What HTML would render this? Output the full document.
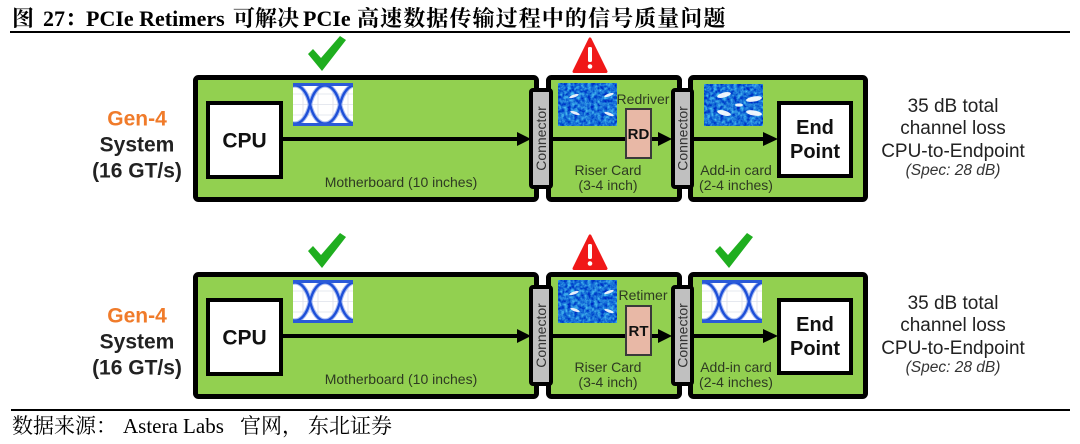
<!DOCTYPE html>
<html><head><meta charset="utf-8">
<style>
html,body{margin:0;padding:0;background:#fff;}
body{width:1080px;height:444px;overflow:hidden;}
svg{display:block;}
</style></head>
<body>
<svg width="1080" height="444" viewBox="0 0 1080 444" xmlns="http://www.w3.org/2000/svg">
<defs>
  <clipPath id="eyeclip"><rect x="0" y="0" width="60" height="43"/></clipPath>
  <clipPath id="badclip"><rect x="0" y="0" width="59" height="43"/></clipPath>
  <filter id="noise" x="0" y="0" width="1" height="1" filterUnits="objectBoundingBox" color-interpolation-filters="sRGB">
    <feTurbulence type="fractalNoise" baseFrequency="0.3" numOctaves="3" seed="4"/>
    <feColorMatrix type="matrix" values="0.6 0 0 0 -0.2  1.0 0 0 0 -0.05  0.3 0 0 0 0.7  0 0 0 0 1"/>
  </filter>
</defs>

<!-- Title -->
<g font-family="'Liberation Serif','Noto Serif CJK SC',serif" font-weight="bold" font-size="22" fill="#000">
  <text x="12" y="26">图</text>
  <text x="43" y="26">27：</text>
  <text x="86" y="26">PCIe Retimers</text>
  <text x="233" y="26">可解决</text>
  <text x="303" y="26">PCIe</text>
  <text x="357" y="26" letter-spacing="1.1">高速数据传输过程中的信号质量问题</text>
</g>
<rect x="10" y="31" width="1060" height="2" fill="#000"/>

<!-- Footer -->
<rect x="11" y="409" width="1059" height="2" fill="#000"/>
<g font-family="'Liberation Serif','Noto Serif CJK SC',serif" font-size="21" fill="#000">
  <text x="12" y="433">数据来源：</text>
  <text x="123" y="433">Astera Labs</text>
  <text x="240" y="433">官网，</text>
  <text x="308" y="433">东北证券</text>
</g>

<!-- ================= DIAGRAM 1 ================= -->
<g id="d1">
  <g font-family="'Liberation Sans',Arial,sans-serif" font-weight="bold" font-size="21" text-anchor="middle">
    <text x="137" y="125.5" fill="#f07b2a">Gen-4</text>
    <text x="137" y="151.5" fill="#222">System</text>
    <text x="137" y="177.5" fill="#222">(16 GT/s)</text>
  </g>
  <rect x="195.5" y="77.5" width="341" height="122" rx="3" fill="#92d050" stroke="#000" stroke-width="5"/>
  <rect x="548.5" y="77.5" width="131" height="122" rx="3" fill="#92d050" stroke="#000" stroke-width="5"/>
  <rect x="690.5" y="77.5" width="175" height="122" rx="3" fill="#92d050" stroke="#000" stroke-width="5"/>
  <rect x="208" y="103" width="73" height="74" fill="#fff" stroke="#000" stroke-width="4"/>
  <text x="244.5" y="147.5" font-family="'Liberation Sans',Arial,sans-serif" font-weight="bold" font-size="21" text-anchor="middle" fill="#111">CPU</text>
  <rect x="779" y="103" width="72" height="73" fill="#fff" stroke="#000" stroke-width="4"/>
  <g font-family="'Liberation Sans',Arial,sans-serif" font-weight="bold" font-size="20" text-anchor="middle" fill="#111">
    <text x="815" y="134">End</text>
    <text x="815" y="158">Point</text>
  </g>
  <line x1="283" y1="139" x2="519" y2="139" stroke="#000" stroke-width="4"/>
  <polygon points="517,132 531,139 517,146" fill="#000"/>
  <line x1="553" y1="139" x2="626" y2="139" stroke="#000" stroke-width="4"/>
  <line x1="651" y1="139" x2="660" y2="139" stroke="#000" stroke-width="4"/>
  <polygon points="658,132 672,139 658,146" fill="#000"/>
  <line x1="693" y1="139" x2="765" y2="139" stroke="#000" stroke-width="4"/>
  <polygon points="763,132 778,139 763,146" fill="#000"/>
  <rect x="626" y="109" width="25" height="49" fill="#e8b8a6" stroke="#3a3a3a" stroke-width="2"/>
  <text x="638.5" y="139" font-family="'Liberation Sans',Arial,sans-serif" font-weight="bold" font-size="15" text-anchor="middle" fill="#111">RD</text>
  <rect x="531" y="90" width="20" height="97" rx="2" fill="#c0c0c0" stroke="#000" stroke-width="4"/>
  <rect x="673" y="90" width="19" height="97" rx="2" fill="#c0c0c0" stroke="#000" stroke-width="4"/>
  <g font-family="'Liberation Sans',Arial,sans-serif" font-size="14" fill="#333" text-anchor="middle">
    <text transform="translate(541,138.5) rotate(-90)" dominant-baseline="central">Connector</text>
    <text transform="translate(682.5,138.5) rotate(-90)" dominant-baseline="central">Connector</text>
  </g>
  <g font-family="'Liberation Sans',Arial,sans-serif" font-size="14" fill="#2e3a22" text-anchor="middle">
    <text x="401" y="187">Motherboard (10 inches)</text>
    <text x="608" y="175">Riser Card</text>
    <text x="608" y="190">(3-4 inch)</text>
    <text x="736" y="175">Add-in card</text>
    <text x="736" y="190">(2-4 inches)</text>
    <text x="643" y="104">Redriver</text>
  </g>
  <g transform="translate(293,83)">
    <g clip-path="url(#eyeclip)">
      <rect x="0" y="0" width="60" height="43" fill="#fff"/>
      <g stroke="#dde0ea" stroke-width="0.8">
        <line x1="10" y1="0" x2="10" y2="43"/><line x1="25" y1="0" x2="25" y2="43"/><line x1="40" y1="0" x2="40" y2="43"/><line x1="55" y1="0" x2="55" y2="43"/>
        <line x1="0" y1="11" x2="60" y2="11"/><line x1="0" y1="21.5" x2="60" y2="21.5"/><line x1="0" y1="32" x2="60" y2="32"/>
      </g>
      <g fill="none" stroke="#6d8ee8" stroke-width="4.5" opacity="0.6">
        <path d="M-13,21.5 C-7,-4 11,-4 17,21.5 C23,-4 41,-4 47,21.5 C53,-4 71,-4 77,21.5"/>
        <path d="M-13,21.5 C-7,47 11,47 17,21.5 C23,47 41,47 47,21.5 C53,47 71,47 77,21.5"/>
      </g>
      <g fill="none" stroke="#1d4fd8" stroke-width="2.4">
        <path d="M-13,21.5 C-7,-4 11,-4 17,21.5 C23,-4 41,-4 47,21.5 C53,-4 71,-4 77,21.5"/>
        <path d="M-13,21.5 C-7,47 11,47 17,21.5 C23,47 41,47 47,21.5 C53,47 71,47 77,21.5"/>
      </g>
      <rect x="0" y="0" width="60" height="3" fill="#2a5ad8"/>
      <rect x="0" y="40" width="60" height="3" fill="#2a5ad8"/>
    </g>
  </g>
  <g transform="translate(558,83)">
    <g clip-path="url(#badclip)">
      <rect x="0" y="0" width="59" height="43" fill="#2a62d8"/>
      <rect x="0" y="0" width="59" height="43" filter="url(#noise)"/>
      <g fill="#fff" opacity="0.9">
        <ellipse cx="16" cy="13" rx="5" ry="1.4" transform="rotate(-20 16 13)"/>
        <ellipse cx="51" cy="12" rx="5" ry="1.4" transform="rotate(-20 51 12)"/>
        <ellipse cx="17" cy="30" rx="5" ry="1.4" transform="rotate(20 17 30)"/>
        <ellipse cx="51" cy="31" rx="5" ry="1.4" transform="rotate(20 51 31)"/>
      </g>
    </g>
  </g>
  <g transform="translate(704,84)">
    <g clip-path="url(#badclip)">
      <rect x="0" y="0" width="59" height="42" fill="#2a62d8"/>
      <rect x="0" y="0" width="59" height="42" filter="url(#noise)"/>
      <g fill="#fff" opacity="0.92">
        <ellipse cx="20" cy="11" rx="7" ry="2.4" transform="rotate(-15 20 11)"/>
        <ellipse cx="50" cy="15" rx="8" ry="2.6" transform="rotate(-10 50 15)"/>
        <ellipse cx="20" cy="29" rx="7" ry="2.4" transform="rotate(15 20 29)"/>
        <ellipse cx="50" cy="29" rx="8" ry="2.6" transform="rotate(10 50 29)"/>
        <ellipse cx="35" cy="21" rx="4" ry="1.6"/>
      </g>
    </g>
  </g>
  <polygon points="308,54 313,49 321,58 340,36 346,40 322,71" fill="#1fae1f"/>
  <polygon points="590,39 606,71.5 574,71.5" fill="#f01818" stroke="#f01818" stroke-width="3" stroke-linejoin="round"/>
  <rect x="588" y="47" width="4" height="15" rx="1.5" fill="#fff"/>
  <circle cx="590" cy="66.5" r="2.3" fill="#fff"/>
  <g font-family="'Liberation Sans',Arial,sans-serif" font-size="19" fill="#222" text-anchor="middle">
    <text x="953" y="112">35 dB total</text>
    <text x="953" y="134">channel loss</text>
    <text x="953" y="157">CPU-to-Endpoint</text>
    <text x="953" y="175" font-size="15.5" font-style="italic" fill="#333">(Spec: 28 dB)</text>
  </g>
</g>

<!-- ================= DIAGRAM 2 ================= -->
<g transform="translate(0,197)">
  <g font-family="'Liberation Sans',Arial,sans-serif" font-weight="bold" font-size="21" text-anchor="middle">
    <text x="137" y="125.5" fill="#f07b2a">Gen-4</text>
    <text x="137" y="151.5" fill="#222">System</text>
    <text x="137" y="177.5" fill="#222">(16 GT/s)</text>
  </g>
  <rect x="195.5" y="77.5" width="341" height="122" rx="3" fill="#92d050" stroke="#000" stroke-width="5"/>
  <rect x="548.5" y="77.5" width="131" height="122" rx="3" fill="#92d050" stroke="#000" stroke-width="5"/>
  <rect x="690.5" y="77.5" width="175" height="122" rx="3" fill="#92d050" stroke="#000" stroke-width="5"/>
  <rect x="208" y="103" width="73" height="74" fill="#fff" stroke="#000" stroke-width="4"/>
  <text x="244.5" y="147.5" font-family="'Liberation Sans',Arial,sans-serif" font-weight="bold" font-size="21" text-anchor="middle" fill="#111">CPU</text>
  <rect x="779" y="103" width="72" height="73" fill="#fff" stroke="#000" stroke-width="4"/>
  <g font-family="'Liberation Sans',Arial,sans-serif" font-weight="bold" font-size="20" text-anchor="middle" fill="#111">
    <text x="815" y="134">End</text>
    <text x="815" y="158">Point</text>
  </g>
  <line x1="283" y1="139" x2="519" y2="139" stroke="#000" stroke-width="4"/>
  <polygon points="517,132 531,139 517,146" fill="#000"/>
  <line x1="553" y1="139" x2="626" y2="139" stroke="#000" stroke-width="4"/>
  <line x1="651" y1="139" x2="660" y2="139" stroke="#000" stroke-width="4"/>
  <polygon points="658,132 672,139 658,146" fill="#000"/>
  <line x1="693" y1="139" x2="765" y2="139" stroke="#000" stroke-width="4"/>
  <polygon points="763,132 778,139 763,146" fill="#000"/>
  <rect x="626" y="109" width="25" height="49" fill="#e8b8a6" stroke="#3a3a3a" stroke-width="2"/>
  <text x="638.5" y="139" font-family="'Liberation Sans',Arial,sans-serif" font-weight="bold" font-size="15" text-anchor="middle" fill="#111">RT</text>
  <rect x="531" y="90" width="20" height="97" rx="2" fill="#c0c0c0" stroke="#000" stroke-width="4"/>
  <rect x="673" y="90" width="19" height="97" rx="2" fill="#c0c0c0" stroke="#000" stroke-width="4"/>
  <g font-family="'Liberation Sans',Arial,sans-serif" font-size="14" fill="#333" text-anchor="middle">
    <text transform="translate(541,138.5) rotate(-90)" dominant-baseline="central">Connector</text>
    <text transform="translate(682.5,138.5) rotate(-90)" dominant-baseline="central">Connector</text>
  </g>
  <g font-family="'Liberation Sans',Arial,sans-serif" font-size="14" fill="#2e3a22" text-anchor="middle">
    <text x="401" y="187">Motherboard (10 inches)</text>
    <text x="608" y="175">Riser Card</text>
    <text x="608" y="190">(3-4 inch)</text>
    <text x="736" y="175">Add-in card</text>
    <text x="736" y="190">(2-4 inches)</text>
    <text x="643" y="103">Retimer</text>
  </g>
  <g transform="translate(293,83)">
    <g clip-path="url(#eyeclip)">
      <rect x="0" y="0" width="60" height="43" fill="#fff"/>
      <g stroke="#dde0ea" stroke-width="0.8">
        <line x1="10" y1="0" x2="10" y2="43"/><line x1="25" y1="0" x2="25" y2="43"/><line x1="40" y1="0" x2="40" y2="43"/><line x1="55" y1="0" x2="55" y2="43"/>
        <line x1="0" y1="11" x2="60" y2="11"/><line x1="0" y1="21.5" x2="60" y2="21.5"/><line x1="0" y1="32" x2="60" y2="32"/>
      </g>
      <g fill="none" stroke="#6d8ee8" stroke-width="4.5" opacity="0.6">
        <path d="M-13,21.5 C-7,-4 11,-4 17,21.5 C23,-4 41,-4 47,21.5 C53,-4 71,-4 77,21.5"/>
        <path d="M-13,21.5 C-7,47 11,47 17,21.5 C23,47 41,47 47,21.5 C53,47 71,47 77,21.5"/>
      </g>
      <g fill="none" stroke="#1d4fd8" stroke-width="2.4">
        <path d="M-13,21.5 C-7,-4 11,-4 17,21.5 C23,-4 41,-4 47,21.5 C53,-4 71,-4 77,21.5"/>
        <path d="M-13,21.5 C-7,47 11,47 17,21.5 C23,47 41,47 47,21.5 C53,47 71,47 77,21.5"/>
      </g>
      <rect x="0" y="0" width="60" height="3" fill="#2a5ad8"/>
      <rect x="0" y="40" width="60" height="3" fill="#2a5ad8"/>
    </g>
  </g>
  <g transform="translate(558,83)">
    <g clip-path="url(#badclip)">
      <rect x="0" y="0" width="59" height="43" fill="#2a62d8"/>
      <rect x="0" y="0" width="59" height="43" filter="url(#noise)"/>
      <g fill="#fff" opacity="0.9">
        <ellipse cx="16" cy="13" rx="5" ry="1.4" transform="rotate(-20 16 13)"/>
        <ellipse cx="51" cy="12" rx="5" ry="1.4" transform="rotate(-20 51 12)"/>
        <ellipse cx="17" cy="30" rx="5" ry="1.4" transform="rotate(20 17 30)"/>
        <ellipse cx="51" cy="31" rx="5" ry="1.4" transform="rotate(20 51 31)"/>
      </g>
    </g>
  </g>
  <g transform="translate(702,83)">
    <g clip-path="url(#eyeclip)">
      <rect x="0" y="0" width="60" height="43" fill="#fff"/>
      <g stroke="#dde0ea" stroke-width="0.8">
        <line x1="10" y1="0" x2="10" y2="43"/><line x1="25" y1="0" x2="25" y2="43"/><line x1="40" y1="0" x2="40" y2="43"/><line x1="55" y1="0" x2="55" y2="43"/>
        <line x1="0" y1="11" x2="60" y2="11"/><line x1="0" y1="21.5" x2="60" y2="21.5"/><line x1="0" y1="32" x2="60" y2="32"/>
      </g>
      <g fill="none" stroke="#6d8ee8" stroke-width="4.5" opacity="0.6">
        <path d="M-13,21.5 C-7,-4 11,-4 17,21.5 C23,-4 41,-4 47,21.5 C53,-4 71,-4 77,21.5"/>
        <path d="M-13,21.5 C-7,47 11,47 17,21.5 C23,47 41,47 47,21.5 C53,47 71,47 77,21.5"/>
      </g>
      <g fill="none" stroke="#1d4fd8" stroke-width="2.4">
        <path d="M-13,21.5 C-7,-4 11,-4 17,21.5 C23,-4 41,-4 47,21.5 C53,-4 71,-4 77,21.5"/>
        <path d="M-13,21.5 C-7,47 11,47 17,21.5 C23,47 41,47 47,21.5 C53,47 71,47 77,21.5"/>
      </g>
      <rect x="0" y="0" width="60" height="3" fill="#2a5ad8"/>
      <rect x="0" y="40" width="60" height="3" fill="#2a5ad8"/>
    </g>
  </g>
  <polygon points="308,54 313,49 321,58 340,36 346,40 322,71" fill="#1fae1f"/>
  <polygon points="715,54 720,49 728,58 747,36 753,40 729,71" fill="#1fae1f"/>
  <polygon points="590,39 606,71.5 574,71.5" fill="#f01818" stroke="#f01818" stroke-width="3" stroke-linejoin="round"/>
  <rect x="588" y="47" width="4" height="15" rx="1.5" fill="#fff"/>
  <circle cx="590" cy="66.5" r="2.3" fill="#fff"/>
  <g font-family="'Liberation Sans',Arial,sans-serif" font-size="19" fill="#222" text-anchor="middle">
    <text x="953" y="112">35 dB total</text>
    <text x="953" y="134">channel loss</text>
    <text x="953" y="157">CPU-to-Endpoint</text>
    <text x="953" y="175" font-size="15.5" font-style="italic" fill="#333">(Spec: 28 dB)</text>
  </g>
</g>
</svg>
</body></html>
